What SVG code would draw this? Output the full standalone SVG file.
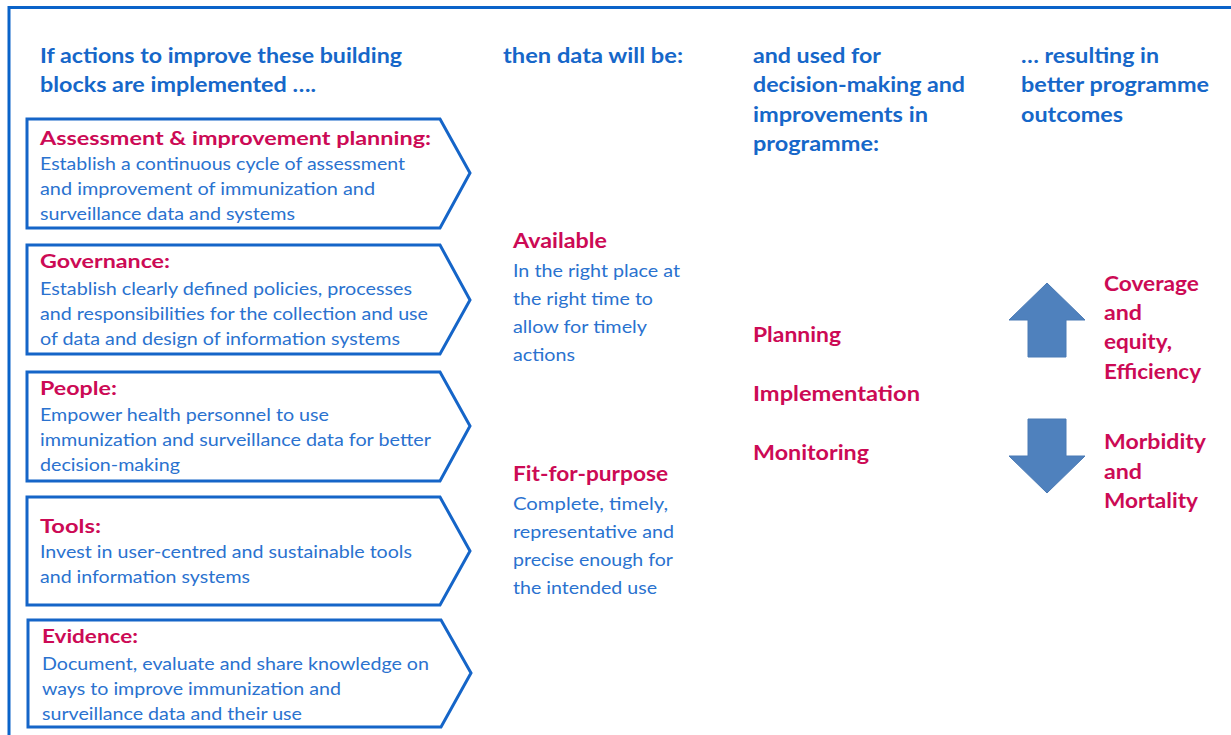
<svg xmlns="http://www.w3.org/2000/svg" width="1231" height="735" viewBox="0 0 1231 735">
<style>
text{font-family:Lato,"Open Sans","Liberation Sans",sans-serif}
.h{font-weight:bold;font-size:21px;fill:#1667c9}
.p{font-weight:bold;font-size:19.5px;fill:#cc0a55}
.pm{font-weight:bold;font-size:21px;fill:#cc0a55}
.b{font-size:17px;fill:#2a72cf}
.bm{font-size:18px;fill:#2a72cf}
.box{fill:#fff;stroke:#1565c8;stroke-width:3;stroke-linejoin:miter}
.arr{fill:#4f81bd;stroke:#4a7ab5;stroke-width:1}
</style>
<rect width="1231" height="735" fill="#fff"/>
<rect x="9" y="7.5" width="1240" height="740" fill="none" stroke="#0a63c9" stroke-width="3"/>

<g id="headers">
<text class="h" x="40" y="63" textLength="362" lengthAdjust="spacingAndGlyphs">If actions to improve these building</text>
<text class="h" x="40" y="92" textLength="276" lengthAdjust="spacingAndGlyphs">blocks are implemented ….</text>
<text class="h" x="503" y="63" textLength="180" lengthAdjust="spacingAndGlyphs">then data will be:</text>
<text class="h" x="753" y="63" textLength="128" lengthAdjust="spacingAndGlyphs">and used for</text>
<text class="h" x="753" y="92" textLength="212" lengthAdjust="spacingAndGlyphs">decision-making and</text>
<text class="h" x="753" y="122" textLength="175" lengthAdjust="spacingAndGlyphs">improvements in</text>
<text class="h" x="753" y="151" textLength="126" lengthAdjust="spacingAndGlyphs">programme:</text>
<text class="h" x="1021" y="63" textLength="138" lengthAdjust="spacingAndGlyphs">… resulting in</text>
<text class="h" x="1021" y="92" textLength="188" lengthAdjust="spacingAndGlyphs">better programme</text>
<text class="h" x="1021" y="122" textLength="102" lengthAdjust="spacingAndGlyphs">outcomes</text>
</g>

<g id="box-assessment">
<polygon class="box" points="27,119 440,119 470,173 440,228 27,228"/>
<text class="p" x="40" y="145" textLength="391" lengthAdjust="spacingAndGlyphs">Assessment &amp; improvement planning:</text>
<text class="b" x="40" y="170" textLength="365" lengthAdjust="spacingAndGlyphs">Establish a continuous cycle of assessment</text>
<text class="b" x="40" y="195" textLength="335" lengthAdjust="spacingAndGlyphs">and improvement of immunization and</text>
<text class="b" x="40" y="220" textLength="255" lengthAdjust="spacingAndGlyphs">surveillance data and systems</text>
</g>

<g id="box-governance">
<polygon class="box" points="27,245 440,245 470,300 440,354 27,354"/>
<text class="p" x="40" y="268" textLength="130" lengthAdjust="spacingAndGlyphs">Governance:</text>
<text class="b" x="40" y="295" textLength="372" lengthAdjust="spacingAndGlyphs">Establish clearly defined policies, processes</text>
<text class="b" x="40" y="320" textLength="388" lengthAdjust="spacingAndGlyphs">and responsibilities for the collection and use</text>
<text class="b" x="40" y="345" textLength="360" lengthAdjust="spacingAndGlyphs">of data and design of information systems</text>
</g>

<g id="box-people">
<polygon class="box" points="27,372 440,372 470,426 440,481 27,481"/>
<text class="p" x="40" y="395" textLength="77" lengthAdjust="spacingAndGlyphs">People:</text>
<text class="b" x="40" y="421" textLength="289" lengthAdjust="spacingAndGlyphs">Empower health personnel to use</text>
<text class="b" x="40" y="446" textLength="391" lengthAdjust="spacingAndGlyphs">immunization and surveillance data for better</text>
<text class="b" x="40" y="471" textLength="140" lengthAdjust="spacingAndGlyphs">decision-making</text>
</g>

<g id="box-tools">
<polygon class="box" points="27,497 440,497 470,551 440,605 27,605"/>
<text class="p" x="40" y="533" textLength="61" lengthAdjust="spacingAndGlyphs">Tools:</text>
<text class="b" x="40" y="558" textLength="372" lengthAdjust="spacingAndGlyphs">Invest in user-centred and sustainable tools</text>
<text class="b" x="40" y="583" textLength="210" lengthAdjust="spacingAndGlyphs">and information systems</text>
</g>

<g id="box-evidence">
<polygon class="box" points="28,620 441,620 471,673 441,727 28,727"/>
<text class="p" x="42" y="643" textLength="96" lengthAdjust="spacingAndGlyphs">Evidence:</text>
<text class="b" x="42" y="670" textLength="387" lengthAdjust="spacingAndGlyphs">Document, evaluate and share knowledge on</text>
<text class="b" x="42" y="695" textLength="299" lengthAdjust="spacingAndGlyphs">ways to improve immunization and</text>
<text class="b" x="42" y="720" textLength="260" lengthAdjust="spacingAndGlyphs">surveillance data and their use</text>
</g>

<g id="data-available">
<text class="pm" x="513" y="248" textLength="94" lengthAdjust="spacingAndGlyphs">Available</text>
<text class="bm" x="513" y="277" textLength="167" lengthAdjust="spacingAndGlyphs">In the right place at</text>
<text class="bm" x="513" y="305" textLength="140" lengthAdjust="spacingAndGlyphs">the right time to</text>
<text class="bm" x="513" y="333" textLength="134" lengthAdjust="spacingAndGlyphs">allow for timely</text>
<text class="bm" x="513" y="361" textLength="62" lengthAdjust="spacingAndGlyphs">actions</text>
</g>

<g id="data-fit">
<text class="pm" x="513" y="481" textLength="155" lengthAdjust="spacingAndGlyphs">Fit-for-purpose</text>
<text class="bm" x="513" y="510" textLength="155" lengthAdjust="spacingAndGlyphs">Complete,  timely,</text>
<text class="bm" x="513" y="538" textLength="161" lengthAdjust="spacingAndGlyphs">representative and</text>
<text class="bm" x="513" y="566" textLength="160" lengthAdjust="spacingAndGlyphs">precise enough for</text>
<text class="bm" x="513" y="594" textLength="144" lengthAdjust="spacingAndGlyphs">the intended use</text>
</g>

<g id="uses">
<text class="pm" x="753" y="342" textLength="88" lengthAdjust="spacingAndGlyphs">Planning</text>
<text class="pm" x="753" y="401" textLength="167" lengthAdjust="spacingAndGlyphs">Implementation</text>
<text class="pm" x="753" y="460" textLength="116" lengthAdjust="spacingAndGlyphs">Monitoring</text>
</g>

<g id="outcome-up">
<polygon class="arr" points="1047,283 1085,320 1066,320 1066,357 1028,357 1028,320 1009,320"/>
<text class="pm" x="1104" y="291" textLength="95" lengthAdjust="spacingAndGlyphs">Coverage</text>
<text class="pm" x="1104" y="320" textLength="38" lengthAdjust="spacingAndGlyphs">and</text>
<text class="pm" x="1104" y="349" textLength="68" lengthAdjust="spacingAndGlyphs">equity,</text>
<text class="pm" x="1104" y="379" textLength="97" lengthAdjust="spacingAndGlyphs">Efficiency</text>
</g>

<g id="outcome-down">
<polygon class="arr" points="1028,419 1066,419 1066,456 1085,456 1047,493 1009,456 1028,456"/>
<text class="pm" x="1104" y="449" textLength="102" lengthAdjust="spacingAndGlyphs">Morbidity</text>
<text class="pm" x="1104" y="479" textLength="38" lengthAdjust="spacingAndGlyphs">and</text>
<text class="pm" x="1104" y="508" textLength="94" lengthAdjust="spacingAndGlyphs">Mortality</text>
</g>

<g id="connectors"></g>
</svg>
